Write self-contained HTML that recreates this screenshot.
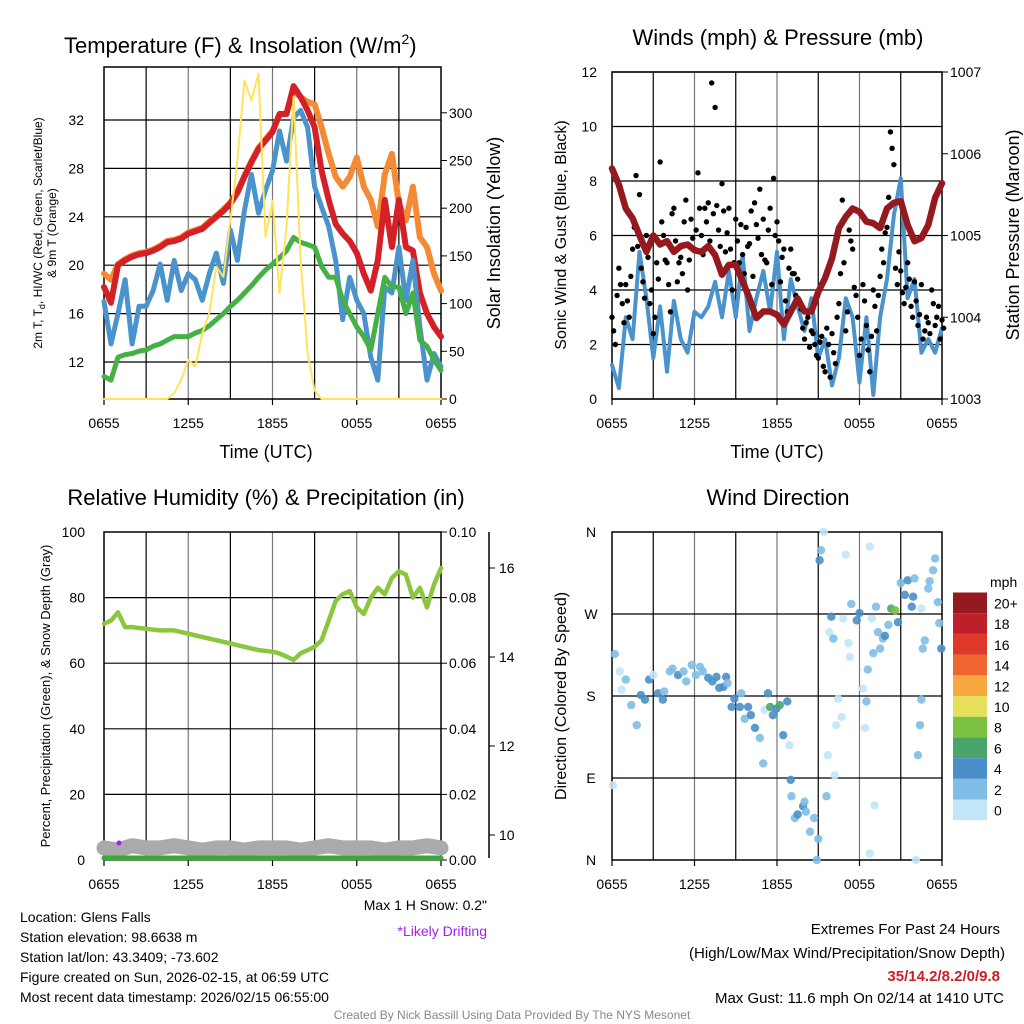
<!DOCTYPE html>
<html><head><meta charset="utf-8"><style>
body{margin:0;background:#fff;width:1024px;height:1024px;overflow:hidden}
svg{display:block;font-family:"Liberation Sans",Arial,sans-serif}
</style></head><body>
<svg id="c" width="1024" height="1024" viewBox="0 0 1024 1024"></svg>
<script>
// ---- data (times in hours since 0655 UTC) ----
const xTickLabels=["0655","1255","1855","0055","0655"];
const tempTicks=[12,16,20,24,28,32];
const solarTicks=[0,50,100,150,200,250,300];
const windTicks=[0,2,4,6,8,10,12];
const presTicks=[1003,1004,1005,1006,1007];
const rhTicks=[0,20,40,60,80,100];
const precipTicks=["0.00","0.02","0.04","0.06","0.08","0.10"];
const snowTicks=[10,12,14,16];
const dirTicks=["N","E","S","W","N"];
const speedBins=["0","2","4","6","8","10","12","14","16","18","20+"];
const speedColors=["#c2e5f7","#7fbce6","#4a8fc7","#4aa56b","#7cc142","#e5df5c","#f6a740","#ef652e","#de3a2b","#bf1f2b","#951a1f"];
// half-hour series
const redT=[18.2,16.9,20.0,20.4,20.7,20.9,21.0,21.2,21.5,21.9,22.0,22.2,22.6,22.8,23.0,23.5,24.0,24.5,25.1,26.0,27.3,28.5,29.6,30.3,31.0,32.5,32.5,34.8,33.9,32.8,31.4,27.8,25.4,23.4,22.6,22.0,21.0,19.3,17.9,20.4,25.4,21.5,25.4,21.5,21.2,17.7,16.0,14.9,14.1];
const orangeT=[19.3,18.8,20.1,20.5,20.8,21.0,21.1,21.3,21.6,22.0,22.1,22.3,22.7,22.9,23.1,23.6,24.1,24.6,25.2,26.1,27.4,28.6,29.7,30.4,31.1,32.4,32.6,34.4,33.9,33.5,33.3,31.4,29.2,27.3,26.5,27.3,28.9,26.5,25.4,23.2,27.5,29.2,25.1,23.7,26.5,22.3,21.5,19.3,17.9];
const blueT=[17.0,13.5,16.0,18.8,13.5,16.6,16.6,17.9,20.1,17.1,20.4,17.9,19.3,18.8,17.1,19.3,21.0,18.5,22.9,20.4,24.5,27.5,24.3,26.2,27.8,31.1,28.6,32.2,32.8,31.4,26.5,24.8,23.2,20.4,15.5,19.0,17.1,16.0,12.4,10.5,18.2,17.7,21.5,17.1,20.4,14.9,10.5,12.7,11.6];
const greenT=[10.8,10.5,12.4,12.6,12.7,12.9,13.0,13.3,13.5,13.8,14.1,14.1,14.1,14.4,14.6,15.0,15.5,16.0,16.6,17.1,17.7,18.3,19.0,19.6,20.1,20.6,21.2,22.3,21.9,21.7,21.5,19.9,19.0,19.0,17.1,16.0,14.9,14.1,13.0,16.0,19.0,18.2,18.2,16.0,17.7,13.8,13.3,12.2,11.3];
const solar=[0,0,0,0,0,0,0,0,0,0,6,20,41,34,69,90,139,128,188,250,334,313,341,170,208,111,181,317,146,48,9,0,0,0,0,0,0,0,0,0,0,0,0,0,0,0,0,0,0];
const windSpd=[1.25,0.4,3.0,2.2,5.4,3.7,1.5,3.4,1.0,3.6,2.2,1.7,3.2,3.0,3.4,4.3,3.0,4.7,3.0,5.3,2.5,3.7,4.7,3.2,5.4,2.2,4.4,3.4,2.5,3.7,1.5,2.2,0.5,1.5,3.7,3.0,0.6,3.0,0.15,3.0,4.4,6.75,8.1,3.7,4.4,1.7,2.2,1.7,2.6];
const pressure=[1005.82,1005.62,1005.33,1005.21,1005.0,1004.8,1005.0,1004.89,1004.93,1004.8,1004.87,1004.89,1004.82,1004.8,1004.87,1004.76,1004.52,1004.64,1004.64,1004.44,1004.23,1003.99,1004.07,1004.07,1004.03,1003.91,1004.07,1004.23,1004.07,1004.07,1004.31,1004.48,1004.72,1005.09,1005.23,1005.33,1005.29,1005.17,1005.15,1005.09,1005.33,1005.4,1005.42,1005.13,1004.93,1004.97,1005.13,1005.46,1005.64];
// quarter-hour gusts
const gust=[3.0,2.0,4.8,3.5,4.2,3.0,5.5,8.2,7.5,4.3,6.0,3.5,2.4,5.0,8.7,6.0,5.0,3.2,7.0,4.3,5.2,6.5,4.0,6.6,5.5,8.3,6.0,7.0,7.2,11.6,10.7,6.2,7.9,5.4,7.0,4.0,6.6,5.0,5.3,6.3,5.7,4.5,6.4,7.7,6.6,5.0,7.0,8.1,6.5,4.3,5.5,3.2,5.5,4.6,4.4,3.3,2.2,3.0,2.5,2.0,1.5,2.3,1.0,2.0,2.4,1.3,3.5,7.3,2.5,6.2,5.5,3.8,1.6,4.2,2.7,1.0,4.0,2.5,4.5,5.0,6.3,9.8,8.6,4.2,4.7,3.5,5.0,3.4,4.3,2.7,4.2,2.5,2.8,4.0,2.7,3.4,2.9];
const gust2=[2.5,3.8,4.2,2.8,3.6,4.5,6.3,5.6,4.8,3.7,5.2,4.0,3.0,4.4,6.5,5.1,4.2,6.8,5.8,5.0,4.6,7.3,5.1,5.9,6.2,7.0,5.3,6.5,5.8,6.8,7.1,5.6,6.9,6.1,5.5,5.0,5.8,6.4,4.6,5.6,6.9,7.2,5.9,5.3,5.1,6.2,4.2,6.0,5.8,5.2,3.6,4.8,4.6,3.8,3.5,2.6,2.8,1.9,2.4,1.6,2.1,1.2,2.6,0.8,1.7,3.0,4.6,5.0,3.2,5.8,4.1,3.0,2.2,3.6,1.8,2.3,3.4,3.8,5.5,6.1,7.4,9.2,4.8,5.4,3.9,4.1,4.4,3.0,3.6,3.1,2.2,3.0,2.4,3.5,3.0,2.2,2.6];
// RH
const rhTimes=[0,0.5,1,1.5,2,3,4,5,6,7,8,9,10,11,12,12.5,13,13.5,14,14.5,15,15.5,16,16.5,17,17.5,18,18.5,19,19.5,20,20.5,21,21.5,22,22.5,23,23.5,24];
const rhVals=[72,73,75.5,71,71,70.5,70,70,69,68,67,66,65,64,63.5,63,62,61,63,64,65,67,73,79,81,82,77,75,80,83,81,86,88,87,80,83,77,84,89];
const snowDepth=[9.8,9.75,9.85,9.8,9.8,9.85,9.8,9.75,9.8,9.8,9.75,9.8,9.8,9.8,9.75,9.8,9.85,9.8,9.8,9.8,9.75,9.8,9.8,9.85,9.8];
const precip=[0,0,0,0,0,0,0,0,0,0,0,0,0,0,0,0,0,0,0,0,0,0,0,0,0];
// wind direction points
const dirTimes=[0.07,0.2,0.56,0.7,1.0,1.4,1.8,2.1,2.4,2.7,3.0,3.35,3.7,3.8,4.2,4.4,4.8,5.2,5.4,5.8,6.1,6.4,6.6,7.0,7.3,7.6,7.8,8.1,8.3,8.4,8.7,8.9,9.3,9.4,9.65,9.9,10.1,10.4,10.75,11.0,11.1,11.35,11.5,11.7,11.95,12.2,12.45,12.75,12.9,13.0,13.05,13.3,13.5,13.9,14.0,14.1,14.4,14.7,14.9,15.0,15.1,15.2,15.4,15.6,15.7,15.8,15.95,16.1,16.2,16.3,16.45,16.7,16.8,17.0,17.2,17.3,17.4,17.8,18.0,18.25,18.4,18.5,18.6,18.75,18.75,18.9,19.0,19.1,19.2,19.35,19.5,19.7,19.85,20.1,20.3,20.6,20.8,21.0,21.3,21.5,21.8,21.9,22.0,22.1,22.25,22.4,22.5,22.5,22.6,22.75,23.0,23.1,23.35,23.5,23.7,23.8,23.95];
const dirVals=[82,226,207,187,198,170,148,181,176,198,203,183,176,185,207,210,203,207,196,214,203,212,207,200,196,201,189,190,201,194,168,177,168,183,155,168,159,145,134,106,165,183,168,159,166,170,137,174,126,88,70,46,50,59,64,53,31,46,0,23,329,340,360,70,115,250,267,243,93,148,177,157,265,335,238,223,281,263,271,188,145,174,209,7,344,265,227,60,278,250,232,243,246,258,276,274,261,304,291,307,278,289,309,0,115,148,176,276,232,241,298,306,318,331,283,260,232];
const dirSpeeds=[0,2,0,0,2,2,2,4,4,4,0,4,4,2,2,2,4,2,2,2,2,2,2,4,4,4,4,4,4,2,4,4,4,2,2,4,4,4,2,2,0,4,6,4,4,6,4,4,0,4,2,2,4,4,2,2,2,2,2,2,4,2,0,2,0,0,4,2,0,0,0,0,0,0,0,0,2,4,4,0,0,2,2,0,0,0,2,0,2,2,2,2,4,2,6,8,4,2,4,4,4,4,2,0,2,2,2,0,2,2,2,2,2,2,2,2,4];

const svg=document.getElementById('c');
const NS="http://www.w3.org/2000/svg";
function mk(tag,attrs,parent){const e=document.createElementNS(NS,tag);for(const k in attrs)e.setAttribute(k,attrs[k]);(parent||svg).appendChild(e);return e;}
function txt(s,x,y,size,anchor,parent,extra){const e=mk('text',Object.assign({x:x,y:y,'font-size':size,'text-anchor':anchor||'start',fill:'#000'},extra||{}),parent);e.textContent=s;return e;}
function grp(name){const g=mk('g',{});return g;}
function poly(pts,stroke,w,parent,name){const d=pts.map((p,i)=>(i?'L':'M')+p[0].toFixed(1)+','+p[1].toFixed(1)).join('');const e=mk('path',{d:d,fill:'none',stroke:stroke,'stroke-width':w,'stroke-linejoin':'round','stroke-linecap':'round'},parent);return e;}

function panel(name,x0,x1,y0,y1,hGridYs){
  const g=grp(name);
  const xs=t=>x0+(x1-x0)*t/24;
  for(let k=1;k<8;k++){const x=xs(k*3);const l=mk('line',{x1:x,x2:x,y1:y0,y2:y1,stroke:k%2?'#000':'#777','stroke-width':1.2},g);}
  hGridYs.forEach(y=>{const l=mk('line',{x1:x0,x2:x1,y1:y,y2:y,stroke:'#000','stroke-width':1.2},g);});
  const fr=mk('rect',{x:x0,y:y0,width:x1-x0,height:y1-y0,fill:'none',stroke:'#000','stroke-width':1.5},g);
  
  xTickLabels.forEach((s,i)=>{const x=xs(i*6);const t=txt(s,x,y1+29,14,'middle',g);
    const tk=mk('line',{x1:x,x2:x,y1:y1,y2:y1+6,stroke:'#000','stroke-width':1.2},g);});
  return {g,xs};
}

// ===== Panel 1: Temperature =====
(function(){
  const y0=67,y1=399,x0=104,x1=441;
  const ty=v=>362-(v-12)*12.1;
  const sy=v=>399-v*0.954;
  const p=panel('temperature-panel',x0,x1,y0,y1,tempTicks.map(ty));
  const g=p.g,xs=p.xs;
  tempTicks.forEach(v=>{const t=txt(String(v),84,ty(v)+5,14,'end',g);});
  solarTicks.forEach(v=>{const t=txt(String(v),449,sy(v)+5,14,'start',g);
    const tk=mk('line',{x1:x1,x2:x1+6,y1:sy(v),y2:sy(v),stroke:'#000'},g);});
  const half=arr=>arr.map((v,i)=>[xs(i*0.5),v]);
  poly(half(orangeT).map(p=>[p[0],ty(p[1])]),'#f58a34',6,g,'series-9m-temp-orange');
  poly(half(redT).map(p=>[p[0],ty(p[1])]),'#d42027',6,g,'series-2m-temp-red');
  poly(half(blueT).map(p=>[p[0],ty(p[1])]),'#4a93cc',5,g,'series-windchill-blue');
  poly(half(greenT).map(p=>[p[0],ty(p[1])]),'#45b045',5,g,'series-dewpoint-green');
  poly(half(solar).map(p=>[p[0],sy(p[1])]),'#ffe45a',2,g,'series-solar-yellow');
  const t1=txt('Temperature (F) & Insolation (W/m',64,53,22,'start',g);
  const sup=mk('tspan',{dy:-9,'font-size':14},t1);sup.textContent='2';const cp=mk('tspan',{dy:9},t1);cp.textContent=')';
  const xt=txt('Time (UTC)',266,458,18,'middle',g);
  const yl=txt('2m T, T',0,0,12,'middle',g,{transform:'translate(42,233) rotate(-90)'});
  const sb=mk('tspan',{dy:3,'font-size':9},yl);sb.textContent='d';const r=mk('tspan',{dy:-3},yl);r.textContent=', HI/WC (Red, Green, Scarlet/Blue)';
  const yl2=txt('& 9m T (Orange)',0,0,12,'middle',g,{transform:'translate(56,233) rotate(-90)'});
  const yr=txt('Solar Insolation (Yellow)',0,0,18,'middle',g,{transform:'translate(500,233) rotate(-90)'});
})();

// ===== Panel 2: Winds =====
(function(){
  const y0=72,y1=399,x0=612,x1=942;
  const wy=v=>399-v*27.25;
  const py=v=>399-(v-1003)*81.75;
  const p=panel('winds-panel',x0,x1,y0,y1,windTicks.map(wy));
  const g=p.g,xs=p.xs;
  windTicks.forEach(v=>{const t=txt(String(v),597,wy(v)+5,14,'end',g);});
  presTicks.forEach(v=>{const t=txt(String(v),950,py(v)+5,14,'start',g);
    const tk=mk('line',{x1:x1,x2:x1+6,y1:py(v),y2:py(v),stroke:'#000'},g);});
  poly(windSpd.map((v,i)=>[xs(i*0.5),wy(v)]),'#4a93cc',4,g,'series-sonic-wind-blue');
  gust.forEach((v,i)=>{const c=mk('circle',{cx:xs(i*0.25),cy:wy(v),r:2.7,fill:'#000'},g);});
  gust2.forEach((v,i)=>{const c=mk('circle',{cx:xs(i*0.25+0.12),cy:wy(v),r:2.7,fill:'#000'},g);});
  poly(pressure.map((v,i)=>[xs(i*0.5),py(v)]),'#951a1f',6.5,g,'series-pressure-maroon');
  const t1=txt('Winds (mph) & Pressure (mb)',778,45,22,'middle',g);
  const xt=txt('Time (UTC)',777,458,18,'middle',g);
  const yl=txt('Sonic Wind & Gust (Blue, Black)',0,0,16,'middle',g,{transform:'translate(566,235) rotate(-90)'});
  const yr=txt('Station Pressure (Maroon)',0,0,18,'middle',g,{transform:'translate(1019,235) rotate(-90)'});
})();

// ===== Panel 3: RH =====
(function(){
  const y0=532,y1=860,x0=104,x1=441;
  const ry=v=>860-v*3.28;
  const sny=v=>835-(v-10)*44.5;
  const p=panel('humidity-panel',x0,x1,y0,y1,rhTicks.slice(1,5).map(ry));
  const g=p.g,xs=p.xs;
  rhTicks.forEach(v=>{const t=txt(String(v),85,ry(v)+5,14,'end',g);});
  precipTicks.forEach((s,i)=>{const y=ry(i*20);const t=txt(s,449,y+5,14,'start',g);
    const tk=mk('line',{x1:x1,x2:x1+6,y1:y,y2:y,stroke:'#000'},g);});
  const ax=mk('line',{x1:489,x2:489,y1:532,y2:858,stroke:'#000','stroke-width':1.5},g);
  snowTicks.forEach(v=>{const y=sny(v);const tk=mk('line',{x1:489,x2:495,y1:y,y2:y,stroke:'#000'},g);
    const t=txt(String(v),499,y+5,14,'start',g);});
  poly(snowDepth.map((v,i)=>[xs(i),sny(v)+4]),'#aaaaaa',15,g,'series-snow-depth-gray');
  poly(precip.map((v,i)=>[xs(i),ry(v*1000)-2]),'#3aa83a',5,g,'series-precip-green');
  const pd=mk('circle',{cx:119,cy:843,r:2.5,fill:'#a020f0'},g);
  poly(rhTimes.map((t,i)=>[xs(t),ry(rhVals[i])]),'#8cc63f',4.5,g,'series-rh-green');
  const t1=txt('Relative Humidity (%) & Precipitation (in)',266,505,22,'middle',g);
  const yl=txt('Percent, Precipitation (Green), & Snow Depth (Gray)',0,0,13,'middle',g,{transform:'translate(50,696) rotate(-90)'});
})();

// ===== Panel 4: Wind Direction =====
(function(){
  const y0=532,y1=860,x0=612,x1=942;
  const dy=v=>860-v/360*328;
  const p=panel('wind-direction-panel',x0,x1,y0,y1,[90,180,270].map(dy));
  const g=p.g,xs=p.xs;
  dirTicks.forEach((s,i)=>{const t=txt(s,591,dy(i*90)+5,14,'middle',g);});
  dirTimes.forEach((t,i)=>{const c=mk('circle',{cx:xs(t),cy:dy(dirVals[i]),r:4.2,fill:speedColors[dirSpeeds[i]/2],'fill-opacity':0.9},g);});
  const t1=txt('Wind Direction',778,505,22,'middle',g);
  const yl=txt('Direction (Colored By Speed)',0,0,16,'middle',g,{transform:'translate(566,696) rotate(-90)'});
  const lg=grp('speed-colorbar');
  const ml=txt('mph',990,587,14,'start',lg);
  speedBins.forEach((s,i)=>{const y=799.5-i*20.7;const r=mk('rect',{x:953,y:y,width:34,height:20.7,fill:speedColors[i]},lg);
    const t=txt(s,994,y+16,14,'start',lg);});
})();

// ===== Footer text =====
(function(){
  const g=grp('station-info');
  ['Location: Glens Falls','Station elevation: 98.6638 m','Station lat/lon: 43.3409; -73.602','Figure created on Sun, 2026-02-15, at 06:59 UTC','Most recent data timestamp: 2026/02/15 06:55:00'].forEach((s,i)=>{const t=txt(s,20,922+i*20,14,'start',g);});
  const a=txt('Max 1 H Snow: 0.2"',487,910,14,'end',g);
  const b=txt('*Likely Drifting',487,936,14,'end',g,{fill:'#a020f0'});
  const e=grp('extremes');
  const e1=txt('Extremes For Past 24 Hours',1000,934,15,'end',e);
  const e2=txt('(High/Low/Max Wind/Precipitation/Snow Depth)',1005,958,15,'end',e);
  const e3=txt('35/14.2/8.2/0/9.8',1000,981,15,'end',e,{fill:'#cc1f27','font-weight':'bold'});
  const e4=txt('Max Gust: 11.6 mph On 02/14 at 1410 UTC',1004,1003,15,'end',e);
  const cr=txt('Created By Nick Bassill Using Data Provided By The NYS Mesonet',512,1019,12,'middle',g,{fill:'#888'});
})();
</script>
</body></html>
